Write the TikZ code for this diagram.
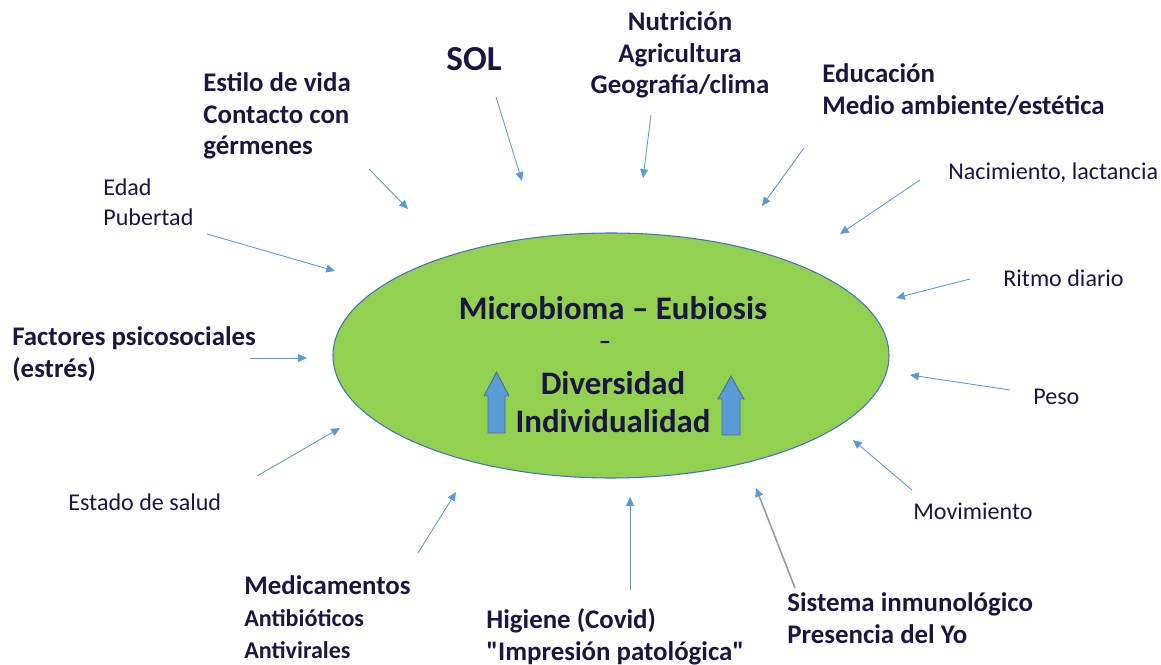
\documentclass[tikz,border=0pt]{standalone}
\usepackage{fontspec}
\setmainfont{Carlito}[Ligatures=TeXOff]
\usetikzlibrary{arrows.meta,shapes.geometric}
\definecolor{txt}{HTML}{1C1443}
\definecolor{arr}{HTML}{5B9BD5}
\definecolor{grn}{HTML}{92D050}
\definecolor{edge}{HTML}{4472C4}
\definecolor{barr}{HTML}{5B9BD5}
\definecolor{barrd}{HTML}{41719C}
\tikzset{
  lbl/.style={text=txt, inner sep=0pt, font=\fontsize{15.3pt}{18.1pt}\selectfont\bfseries, align=left, anchor=west},
  lblc/.style={lbl, align=center, anchor=center},
  reg/.style={text=txt, inner sep=0pt, font=\fontsize{13.7pt}{17pt}\selectfont, align=left, anchor=west},
  conn/.style={draw=arr, line width=0.5pt, -{Triangle[length=5pt,width=4.5pt]}},
  gconn/.style={draw=gray!80, line width=0.9pt, -{Triangle[length=5pt,width=4.5pt,color=arr]}},
  barrow/.style={fill=barr, draw=barrd, line width=0.5pt},
}
\begin{document}
\begin{tikzpicture}[x=0.02cm,y=-0.02cm]
\useasboundingbox (0,0) rectangle (1161,665);
% ellipse
\node (mb) [ellipse, draw=edge, fill=grn, line width=0.6pt, minimum width=556*0.02cm, minimum height=245*0.02cm, inner sep=0pt] at (611,355.5) {};
% centre texts
\node (t1) [lblc, font=\fontsize{18.7pt}{18pt}\selectfont\bfseries] at (613,308) {Microbioma – Eubiosis};
\node (t2) [lblc, font=\fontsize{14pt}{18pt}\selectfont\bfseries] at (605,345) {–};
\node (t3) [lblc, font=\fontsize{18.7pt}{21.5pt}\selectfont\bfseries] at (613,402) {Diversidad\\Individualidad};
\draw[barrow] (488,433) -- (488,396) -- (484,396) -- (496.5,372) -- (509,396) -- (505,396) -- (505,433) -- cycle;
\draw[barrow] (722,435) -- (722,399) -- (718,399) -- (731,376) -- (744,399) -- (740,399) -- (740,435) -- cycle;
% labels
\node (sol) [lblc, font=\fontsize{20pt}{18pt}\selectfont\bfseries] at (474,59) {SOL};
\node (nut) [lblc] at (680,55) {Nutrición\\Agricultura\\Geografía/clima};
\node (edu) [lbl] at (822,90) {Educación\\Medio ambiente/estética};
\node (nac) [reg] at (948,173) {Nacimiento, lactancia};
\node (rit) [reg] at (1003,278) {Ritmo diario};
\node (pes) [reg] at (1033,397) {Peso};
\node (mov) [reg] at (913,511) {Movimiento};
\node (sis) [lbl] at (787,618) {Sistema inmunológico\\Presencia del Yo};
\node (hig) [lbl] at (486,637) {Higiene (Covid)\\"Impresión patológica"};
\node (med) [lbl] at (244,585) {Medicamentos};
\node (ant) [lbl, font=\fontsize{13.7pt}{18pt}\selectfont\bfseries] at (244,634) {Antibióticos\\Antivirales};
\node (est) [reg] at (68,502) {Estado de salud};
\node (fac) [lbl] at (12,354) {Factores psicosociales\\(estrés)};
\node (eda) [reg] at (103,202) {Edad\\Pubertad};
\node (vid) [lbl] at (203,116) {Estilo de vida\\Contacto con\\gérmenes};
% connector end points
\coordinate (a1) at (496,97);   \coordinate (b1) at (522,181);
\coordinate (a2) at (651,115);  \coordinate (b2) at (643,178);
\coordinate (a3) at (804,148);  \coordinate (b3) at (762,206);
\coordinate (a4) at (920,180);  \coordinate (b4) at (840,234);
\coordinate (a5) at (970,279);  \coordinate (b5) at (896,298);
\coordinate (a6) at (1010,390); \coordinate (b6) at (910,375);
\coordinate (a7) at (912,490);  \coordinate (b7) at (853,440);
\coordinate (a8) at (795,588);  \coordinate (b8) at (756,488);
\coordinate (a9) at (630,590);  \coordinate (b9) at (630,497);
\coordinate (a10) at (418,553); \coordinate (b10) at (456,492);
\coordinate (a11) at (257,476); \coordinate (b11) at (340,428);
\coordinate (a12) at (250,358); \coordinate (b12) at (307,358);
\coordinate (a13) at (207,234); \coordinate (b13) at (335,271);
\coordinate (a14) at (369,169); \coordinate (b14) at (408,209);
\foreach \i in {1,2,3,4,5,6,7,9,10,11,12,13,14} {\draw[conn] (a\i) -- (b\i);}
\draw[gconn] (a8) -- (b8);
\end{tikzpicture}
\end{document}
